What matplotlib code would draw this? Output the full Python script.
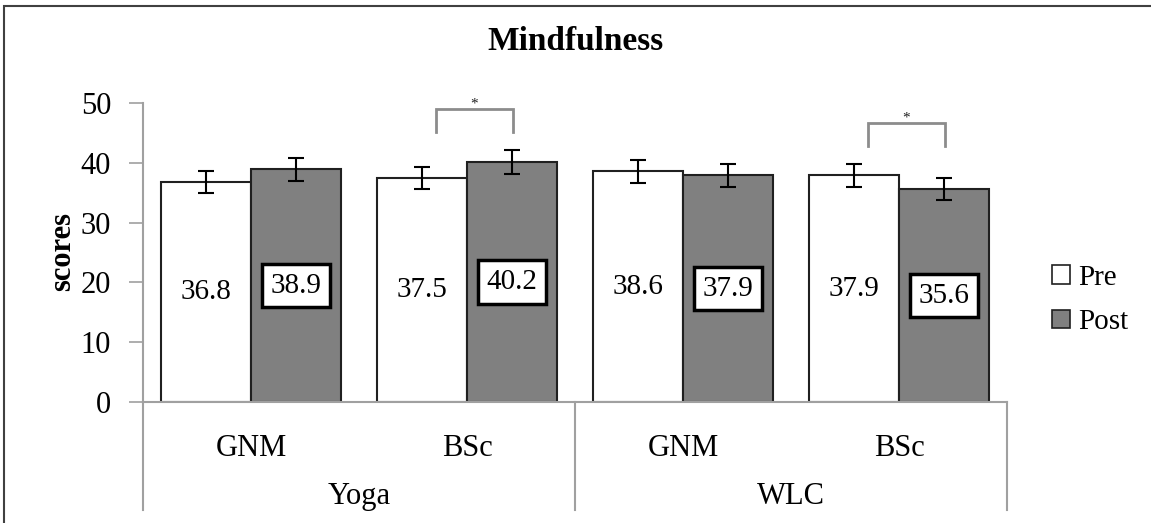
import numpy as np
import matplotlib.pyplot as plt
from matplotlib.patches import Rectangle, Patch
import matplotlib.transforms as mtransforms

plt.rcParams['font.family'] = ['Liberation Serif', 'DejaVu Serif']

# Data
groups = ['Yoga', 'WLC']
subgroups = ['GNM', 'BSc', 'GNM', 'BSc']
pre = [36.8, 37.5, 38.6, 37.9]
post = [38.9, 40.2, 37.9, 35.6]
pre_err = [1.9, 1.8, 1.9, 1.95]
post_err = [1.95, 2.0, 1.95, 1.8]
sig_cats = [1, 3]  # categories with a significant pre/post difference

W, H = 1151, 523
fig = plt.figure(figsize=(W / 100, H / 100), dpi=100)
ax = fig.add_axes([143 / W, 1 - 402 / H, 864 / W, 299 / H])

x = np.arange(len(subgroups))
bw = 0.415
x_pre = x - bw / 2
x_post = x + bw / 2

err_kw = dict(ecolor='black', elinewidth=1.5, capsize=6, capthick=1.5)
ax.bar(x_pre, pre, bw, color='white', edgecolor='#202020', linewidth=1.5,
       yerr=pre_err, error_kw=err_kw, zorder=2)
ax.bar(x_post, post, bw, color='#808080', edgecolor='#202020', linewidth=1.5,
       yerr=post_err, error_kw=err_kw, zorder=2)

# value labels in the middle of each bar
for i in range(len(subgroups)):
    ax.text(x_pre[i], pre[i] / 2, f'{pre[i]:.1f}', ha='center', va='center',
            fontsize=21, zorder=3)
    ax.text(x_post[i], post[i] / 2, f'{post[i]:.1f}', ha='center', va='center',
            fontsize=21, zorder=3,
            bbox=dict(boxstyle='square,pad=0.3', facecolor='white',
                      edgecolor='black', linewidth=2.5))

# significance brackets
for c in sig_cats:
    top = max(pre[c] + pre_err[c], post[c] + post_err[c])
    y0 = top + 2.9
    y1 = y0 + 3.9
    xl = x_pre[c] + 0.065
    xr = x_post[c] + 0.005
    ax.plot([xl, xl, xr, xr], [y0, y1, y1, y0], color='#8c8c8c', lw=2,
            solid_joinstyle='miter', zorder=1)
    ax.text((xl + xr) / 2, y1 - 0.3, '*', ha='center', va='bottom',
            fontsize=11, color='#202020')

ax.set_xlim(-0.5, 3.5)
ax.set_ylim(0, 50)
ax.set_yticks(range(0, 51, 10))
ax.tick_params(axis='y', length=10, width=1.2, color='#a0a0a0',
               labelsize=22, pad=13)
ax.set_xticks(x)
ax.set_xticklabels(subgroups, fontsize=22)
ax.tick_params(axis='x', length=0, pad=23)

for side in ['top', 'right']:
    ax.spines[side].set_visible(False)
for side in ['left', 'bottom']:
    ax.spines[side].set_color('#a0a0a0')
    ax.spines[side].set_linewidth(1.5)

# two-level category axis: separators and group names
trans = mtransforms.blended_transform_factory(ax.transData, ax.transAxes)
for xs in [-0.5, 1.5, 3.5]:
    ax.plot([xs, xs], [0, -0.361], color='#a0a0a0', lw=1.5,
            transform=trans, clip_on=False)
for gi, g in enumerate(groups):
    ax.text(gi * 2 + 0.5, -0.315, g, ha='center', va='center', fontsize=22,
            transform=trans)

fig.text(575 / W, 1 - 42 / H, 'Mindfulness', ha='center', va='center',
         fontsize=24, fontweight='bold')
fig.text(63 / W, 1 - 252 / H, 'scores', ha='center', va='center',
         rotation=90, fontsize=22, fontweight='bold')

handles = [Patch(facecolor='white', edgecolor='#202020', linewidth=1.2),
           Patch(facecolor='#808080', edgecolor='#202020', linewidth=1.2)]
fig.legend(handles, ['Pre', 'Post'], loc='center left',
           bbox_to_anchor=(1026 / W, 1 - 300 / H), frameon=False,
           fontsize=21, handlelength=0.6, handleheight=0.6,
           handletextpad=0.3, labelspacing=0.65)

# chart area border
fig.add_artist(Rectangle((4 / W, -0.1), 2, 1 - 6 / H + 0.1,
                         transform=fig.transFigure, fill=False,
                         edgecolor='#404040', linewidth=1.5))

fig.savefig('out.png', dpi=100)
